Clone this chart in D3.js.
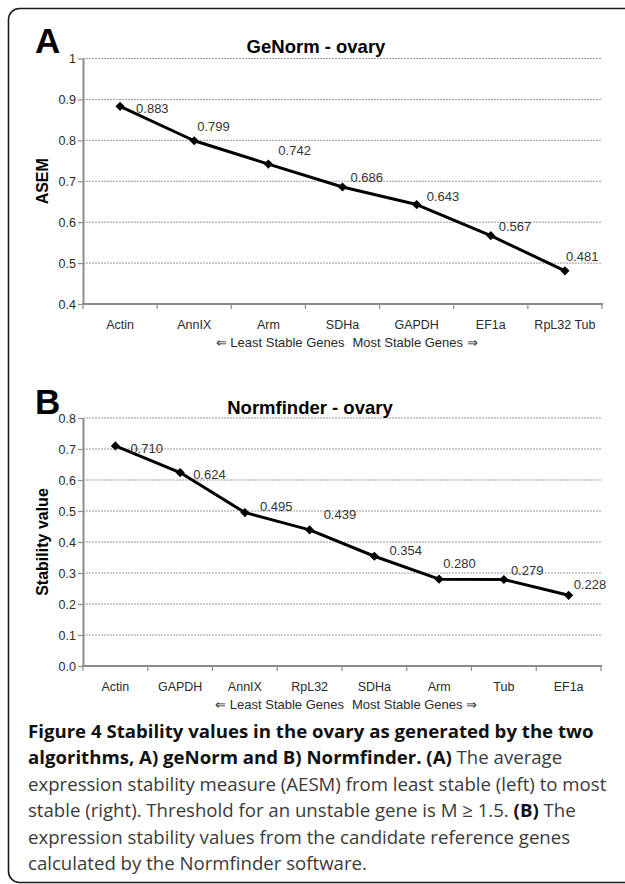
<!DOCTYPE html>
<html>
<head>
<meta charset="utf-8">
<script src="https://cdn.jsdelivr.net/npm/d3@7"></script>
<style>
  html, body { margin: 0; padding: 0; background: #fff; }
  svg { display: block; }
  .chart text { font-family: "Liberation Sans", Arial, sans-serif; }
  .caption text { font-family: "Open Sans", sans-serif; }
</style>
</head>
<body>
<svg id="fig" width="625" height="884"></svg>
<script>
// ---------- data ----------
const genesA = ["Actin", "AnnIX", "Arm", "SDHa", "GAPDH", "EF1a", "RpL32 Tub"];
const valuesA = [0.883, 0.799, 0.742, 0.686, 0.643, 0.567, 0.481];
const ticksA = [0.4, 0.5, 0.6, 0.7, 0.8, 0.9, 1.0];
const tickLabelsA = ["0.4", "0.5", "0.6", "0.7", "0.8", "0.9", "1"];

const genesB = ["Actin", "GAPDH", "AnnIX", "RpL32", "SDHa", "Arm", "Tub", "EF1a"];
const valuesB = [0.710, 0.624, 0.495, 0.439, 0.354, 0.280, 0.279, 0.228];
const ticksB = [0.0, 0.1, 0.2, 0.3, 0.4, 0.5, 0.6, 0.7, 0.8];
const tickLabelsB = ["0.0", "0.1", "0.2", "0.3", "0.4", "0.5", "0.6", "0.7", "0.8"];

const titleA = "GeNorm - ovary";
const titleB = "Normfinder - ovary";
const yTitleA = "ASEM";
const yTitleB = "Stability value";
const subLeft = "\u21D0 Least Stable Genes";
const subRight = "Most Stable Genes \u21D2";

// label nudges (layout only, px relative to the point)
const nudgeA = [[16, 2], [3, -14], [10, -14], [8, -10], [10, -8], [8, -9], [1, -14]];
const nudgeB = [[15, 3], [13, 2], [15, -6], [14, -15], [15, -6], [4, -16], [7, -9], [5, -11]];

const svg = d3.select("#fig");

// frame (cropped on the right)
svg.append("rect")
  .attr("x", 8.5).attr("y", 8.5)
  .attr("width", 700).attr("height", 874)
  .attr("rx", 11).attr("ry", 11)
  .attr("fill", "none").attr("stroke", "#1a1a1a").attr("stroke-width", 1.6);

function panel(cfg) {
  const g = svg.append("g").attr("class", "chart");
  const x = d3.scaleBand().domain(cfg.genes).range([cfg.x0, cfg.x1]).padding(0);
  const y = d3.scaleLinear().domain(cfg.domain).range([cfg.yBottom, cfg.yTop]);

  // gridlines
  g.append("g").selectAll("line")
    .data(cfg.ticks.filter(t => t !== cfg.domain[0]))
    .join("line")
    .attr("x1", cfg.x0).attr("x2", cfg.x1)
    .attr("y1", d => y(d)).attr("y2", d => y(d))
    .attr("stroke", "#9a9a9a").attr("stroke-width", 1)
    .attr("stroke-dasharray", "2,1");

  // y axis
  const yAxis = d3.axisLeft(y)
    .tickValues(cfg.ticks)
    .tickFormat((d, i) => cfg.tickLabels[i])
    .tickSizeOuter(0).tickSizeInner(5).tickPadding(2);
  const ya = g.append("g").attr("transform", `translate(${cfg.x0},0)`).call(yAxis);
  ya.select(".domain").attr("stroke", "#8c8c8c").attr("stroke-width", 2);
  ya.selectAll(".tick line").attr("stroke", "#8c8c8c").attr("stroke-width", 1.2);
  ya.selectAll(".tick text").attr("font-size", 12.5).attr("fill", "#2a2a2a");

  // x axis: labels from band axis, ticks at band edges
  const xAxis = d3.axisBottom(x).tickSize(0).tickPadding(16);
  const xa = g.append("g").attr("transform", `translate(0,${cfg.yBottom})`).call(xAxis);
  xa.select(".domain").remove();
  xa.selectAll(".tick text").attr("font-size", 12.5).attr("fill", "#2a2a2a");
  const edges = cfg.genes.map(gn => x(gn)).concat([x(cfg.genes[cfg.genes.length - 1]) + x.bandwidth()]);
  g.append("g").selectAll("line").data(edges).join("line")
    .attr("x1", d => d).attr("x2", d => d)
    .attr("y1", cfg.yBottom).attr("y2", cfg.yBottom + 5)
    .attr("stroke", "#8c8c8c").attr("stroke-width", 1.2);
  g.append("line")
    .attr("x1", cfg.x0 - 1).attr("x2", cfg.x1 + 1)
    .attr("y1", cfg.yBottom).attr("y2", cfg.yBottom)
    .attr("stroke", "#8c8c8c").attr("stroke-width", 2);

  // line
  const pts = cfg.genes.map((gn, i) => [x(gn) + x.bandwidth() / 2, y(cfg.values[i])]);
  g.append("path")
    .attr("d", d3.line()(pts))
    .attr("fill", "none").attr("stroke", "#000").attr("stroke-width", 3)
    .attr("stroke-linejoin", "round");

  // markers (diamonds)
  g.append("g").selectAll("path").data(pts).join("path")
    .attr("d", d3.symbol().type(d3.symbolSquare).size(42))
    .attr("transform", d => `translate(${d[0]},${d[1]}) rotate(45)`)
    .attr("fill", "#000");

  // data labels
  g.append("g").selectAll("text").data(pts).join("text")
    .attr("x", (d, i) => d[0] + cfg.nudge[i][0])
    .attr("y", (d, i) => d[1] + cfg.nudge[i][1])
    .attr("dy", "0.35em")
    .attr("font-size", 13).attr("fill", "#333")
    .text((d, i) => cfg.values[i].toFixed(3));

  // titles
  g.append("text")
    .attr("x", cfg.titleX).attr("y", cfg.titleY)
    .attr("text-anchor", "middle").attr("font-weight", "bold")
    .attr("font-size", 18.5).attr("fill", "#000")
    .text(cfg.title);

  g.append("text")
    .attr("transform", `translate(${cfg.yTitleX},${(cfg.yTop + cfg.yBottom) / 2}) rotate(-90)`)
    .attr("text-anchor", "middle").attr("font-weight", "bold")
    .attr("font-size", 16).attr("fill", "#000")
    .text(cfg.yTitle);

  // axis sub-caption (two halves around the plot centre)
  const cx = (cfg.x0 + cfg.x1) / 2 + 6;
  g.append("text")
    .attr("x", cx - 4).attr("y", cfg.yBottom + 43)
    .attr("text-anchor", "end")
    .attr("font-size", 13).attr("fill", "#2a2a2a")
    .text(subLeft);
  g.append("text")
    .attr("x", cx + 4).attr("y", cfg.yBottom + 43)
    .attr("text-anchor", "start")
    .attr("font-size", 13).attr("fill", "#2a2a2a")
    .text(subRight);

  g.append("text")
    .attr("x", 35).attr("y", cfg.letterY)
    .attr("font-weight", "bold").attr("font-size", 35).attr("fill", "#000")
    .text(cfg.letter);
}

panel({
  genes: genesA, values: valuesA, ticks: ticksA, tickLabels: tickLabelsA,
  domain: [0.4, 1.0], x0: 83, x1: 602, yTop: 58.5, yBottom: 304,
  nudge: nudgeA, title: titleA, titleX: 316, titleY: 53,
  yTitle: yTitleA, yTitleX: 48, letter: "A", letterY: 53
});

panel({
  genes: genesB, values: valuesB, ticks: ticksB, tickLabels: tickLabelsB,
  domain: [0.0, 0.8], x0: 83, x1: 601, yTop: 418, yBottom: 666,
  nudge: nudgeB, title: titleB, titleX: 310, titleY: 414,
  yTitle: yTitleB, yTitleX: 48, letter: "B", letterY: 414
});

// ---------- caption ----------
const captionLines = [
  [["Figure 4 Stability values in the ovary as generated by the two", true]],
  [["algorithms, A) geNorm and B) Normfinder. ", true], ["(A)", true], [" The average", false]],
  [["expression stability measure (AESM) from least stable (left) to most", false]],
  [["stable (right). Threshold for an unstable gene is M \u2265 1.5. ", false], ["(B)", true], [" The", false]],
  [["expression stability values from the candidate reference genes", false]],
  [["calculated by the Normfinder software.", false]]
];
const cap = svg.append("g").attr("class", "caption");
const capTexts = captionLines.map((line, i) => {
  const t = cap.append("text")
    .attr("x", 28).attr("y", 738 + i * 26.4)
    .attr("font-size", 17.3)
    .style("white-space", "pre");
  line.forEach(([s, b]) => {
    t.append("tspan")
      .attr("font-weight", b ? "bold" : "normal")
      .attr("fill", b ? "#111" : "#3a3a3a")
      .text(s);
  });
  return t;
});
// fit caption size so the longest regular line spans the measured width
const w3 = capTexts[2].node().getComputedTextLength();
if (w3 > 0) {
  const fs = 17.3 * 578 / w3;
  capTexts.forEach(t => t.attr("font-size", fs));
}
</script>
</body>
</html>
